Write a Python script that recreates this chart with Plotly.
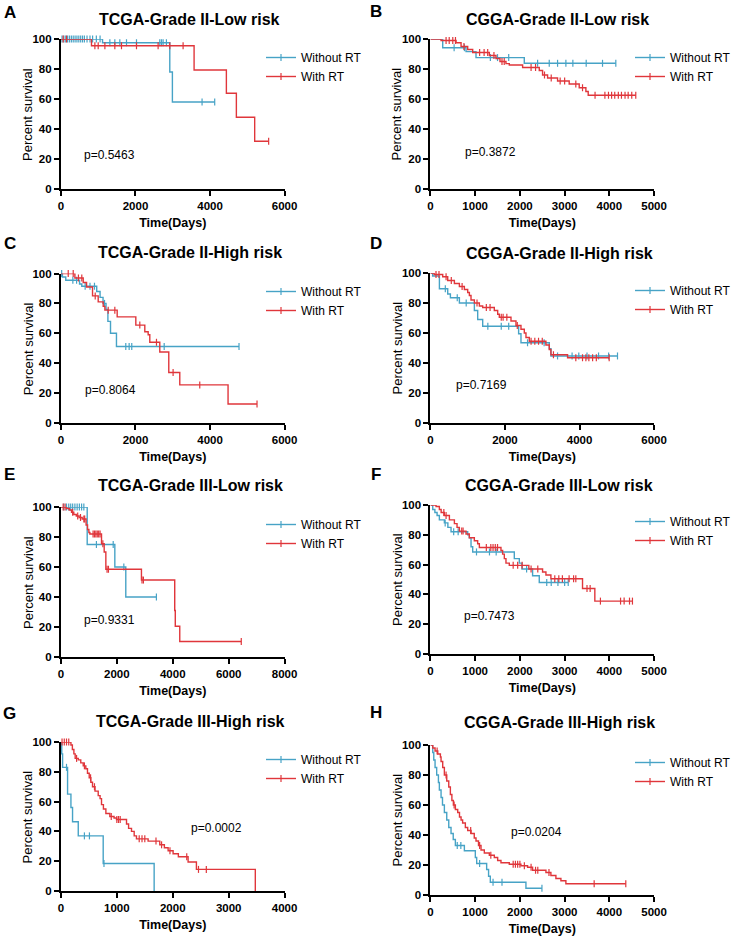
import plotly.graph_objects as go

W, H = 736, 937
BLUE = "#47A3C6"
RED = "#E0363B"
FONT = "Liberation Sans"

# ---------------- data (time in days, survival in %) ----------------
# Panel A: TCGA-Grade II-Low risk
A_wo_t = [1116, 2920, 2990]
A_wo_s = [97.5, 78, 58]
A_wo_c = [30, 80, 130, 180, 230, 280, 330, 380, 430, 480, 530, 580, 630, 700, 780, 850,
          950, 1050, 1313, 1446, 1580, 1759, 2027, 2652, 2697, 2741, 2830, 3786, 4125]
A_w_t = [820, 3572, 4438, 4706, 5197]
A_w_s = [95.5, 79.3, 63.8, 47.8, 31.8]
A_w_c = [60, 150, 911, 1000, 1179, 1446, 1625, 2027, 2607, 2920, 3277, 5572]

# Panel B: CGGA-Grade II-Low risk
B_wo_t = [275, 796, 1019, 2098]
B_wo_s = [94.2, 91.6, 87.6, 83.8]
B_wo_c = [530, 760, 1340, 1500, 1750, 2396, 2656, 2842, 3028, 3184, 3482, 3847, 4144]
B_w_t = [238, 573, 685, 833, 945, 1317, 1466, 1555, 1689, 1763, 2061, 2433, 2507, 2619,
         2842, 3102, 3326, 3475, 3527]
B_w_s = [99, 97.5, 95, 93, 91, 89, 87, 85, 83.6, 82.7, 81, 79, 76, 74, 72, 70, 67.5, 65, 62.5]
B_w_c = [350, 420, 500, 560, 750, 1100, 1200, 1280, 1420, 1600, 1650, 2250, 2350, 2550, 2700,
         2900, 3000, 3250, 3400, 3680, 3900, 3980, 4050, 4120, 4200, 4270, 4350, 4420, 4500, 4590]

# Panel C: TCGA-Grade II-High risk
C_wo_t = [40, 130, 500, 560, 960, 1050, 1130, 1210, 1260, 1330, 1490]
C_wo_s = [97.7, 95.5, 93, 91.5, 88, 84, 80, 76, 68, 60, 51.2]
C_wo_c = [20, 320, 420, 650, 780, 900, 1170, 1740, 1830, 1900, 2770, 4777]
C_w_t = [375, 598, 688, 848, 1000, 1134, 1179, 1509, 2009, 2250, 2340, 2384, 2652, 2893, 3188, 4483]
C_w_s = [97, 94, 91, 85, 81, 78, 75.5, 71, 65.5, 61, 59, 54, 47.5, 33.8, 25.5, 12.7]
C_w_c = [196, 330, 470, 560, 920, 1268, 1446, 2116, 2563, 3009, 3724, 5260]

# Panel D: CGGA-Grade II-High risk
D_wo_t = [60, 241, 464, 536, 777, 1179, 1268, 1402, 2366, 2429, 3188, 3232]
D_wo_s = [98, 89.5, 86, 83.5, 80, 75, 69, 64.5, 59.5, 53.5, 49.5, 44.7]
D_wo_c = [400, 720, 960, 1540, 1900, 2100, 2605, 3050, 3410, 3800, 3980, 4200, 4510, 4780, 5018]
D_w_t = [100, 330, 464, 643, 777, 911, 1000, 1045, 1089, 1179, 1313, 1402, 1714, 1804, 1848,
         2161, 2295, 2429, 2518, 2563, 2652, 3098, 3188, 3232, 3679]
D_w_s = [99, 97.5, 95, 93, 91, 89, 87, 85, 82, 80, 78, 77, 75, 72.5, 70.5, 68, 65, 62.5, 60, 57,
         54.5, 52, 49, 45.5, 43.5]
D_w_c = [150, 230, 420, 560, 850, 1250, 1500, 1600, 1900, 1950, 2050, 2330, 2700, 2800, 2900,
         3000, 3300, 3900, 4080, 4170, 4250, 4350, 4450, 4795]

# Panel E: TCGA-Grade III-Low risk
E_wo_t = [940, 1928, 2320]
E_wo_s = [75, 60, 40]
E_wo_c = [100, 200, 280, 350, 420, 500, 580, 660, 740, 820, 1270, 1870, 2250, 3415]
E_w_t = [200, 300, 380, 460, 550, 650, 760, 900, 952, 1000, 1035, 1452, 1547, 1607, 2880,
         4070, 4090, 4250]
E_w_s = [99, 98, 96.5, 95, 94, 93, 92, 88, 85, 83, 82, 75.5, 70, 58.5, 51.3, 31, 20.5, 10.3]
E_w_c = [80, 150, 420, 600, 700, 820, 850, 1150, 1200, 1250, 1300, 1350, 1400, 1500, 1650,
         1700, 2900, 2950, 6450]

# Panel F: CGGA-Grade III-Low risk
F_wo_t = [52, 100, 149, 200, 312, 390, 461, 833, 870, 908, 945, 1875, 1987, 2046, 2284, 2433]
F_wo_s = [97, 95, 93, 90, 88, 85, 82, 80, 78, 72, 68.5, 64, 61, 57, 52.5, 48]
F_wo_c = [330, 520, 620, 1030, 1320, 1470, 2150, 2600, 2700, 2850, 3000, 3080]
F_w_t = [126, 200, 240, 310, 424, 536, 595, 647, 796, 870, 982, 1056, 1094, 1577, 1614, 1652,
         1689, 1763, 2200, 2507, 2582, 2693, 3400, 3675]
F_w_s = [99, 97, 95, 93, 90, 87.5, 85, 82.5, 80.5, 78, 76, 74, 71.5, 69.5, 67, 64, 61, 59.5,
         57, 55, 53, 50.5, 44, 35.5]
F_w_c = [300, 350, 700, 730, 1250, 1350, 1400, 1450, 1500, 1850, 1950, 2050, 2250, 2400, 2780,
         2870, 2950, 3100, 3200, 3250, 3500, 3570, 3800, 4250, 4330, 4450, 4516]

# Panel G: TCGA-Grade III-High risk
G_wo_t = [15, 30, 119, 179, 208, 310, 756, 1667]
G_wo_s = [92, 83, 65, 56, 46.5, 37, 18.5, 0]
G_wo_c = [100, 420, 510, 770]
G_w_t = [179, 205, 232, 255, 310, 355, 399, 445, 475, 506, 535, 565, 610, 667, 700, 726, 760,
         804, 875, 950, 994, 1173, 1210, 1262, 1310, 1351, 1559, 1768, 1850, 1917, 2006, 2100,
         2274, 2423, 3476]
G_w_s = [98, 95, 92, 89, 88, 86, 84, 82, 79, 76, 73, 70, 67, 64, 62, 58, 55, 52, 50, 49, 48,
         45, 42, 40, 37, 35, 33.5, 31, 29, 27, 25, 23, 19.5, 14.5, 0]
G_w_c = [20, 60, 100, 140, 280, 420, 530, 600, 900, 1000, 1030, 1060, 1400, 1450, 1500, 1700,
         1800, 1950, 2250, 2460, 2600]

# Panel H: CGGA-Grade III-High risk
H_wo_t = [52, 75, 104, 140, 179, 200, 238, 270, 312, 365, 410, 461, 510, 558, 759, 1004, 1034,
          1257, 1300, 1339, 2135]
H_wo_s = [95, 90, 85, 80, 75, 70, 65, 60, 55, 50, 45, 41, 37, 33, 29.5, 25, 21, 17, 12.5, 8.5, 4.5]
H_wo_c = [600, 680, 1100, 1400, 1600, 2493]
H_w_t = [52, 104, 164, 223, 238, 275, 312, 365, 410, 446, 480, 513, 558, 610, 650, 685, 720,
         781, 833, 908, 980, 1019, 1075, 1131, 1205, 1317, 1428, 1503, 1577, 1763, 2023, 2172,
         2284, 2582, 2693, 2805, 2917, 3028]
H_w_s = [98, 96, 94, 92, 89, 85, 80, 76, 72, 67, 63, 60, 57, 55, 52, 50, 48, 45, 43, 41, 38,
         36, 33, 30, 28, 26.5, 25, 23, 21.5, 20.5, 19.5, 18.5, 16.5, 15, 13, 11, 9.5, 7.5]
H_w_c = [150, 350, 530, 900, 1100, 1350, 1850, 1900, 1950, 2000, 2100, 2250, 2350, 2400, 2650,
         3660, 4367]

titles = ["TCGA-Grade II-Low risk", "CGGA-Grade II-Low risk",
          "TCGA-Grade II-High risk", "CGGA-Grade II-High risk",
          "TCGA-Grade III-Low risk", "CGGA-Grade III-Low risk",
          "TCGA-Grade III-High risk", "CGGA-Grade III-High risk"]
letters = ["A", "B", "C", "D", "E", "F", "G", "H"]
pvalues = ["p=0.5463", "p=0.3872", "p=0.8064", "p=0.7169",
           "p=0.9331", "p=0.7473", "p=0.0002", "p=0.0204"]
xmax = [6000, 5000, 6000, 6000, 8000, 5000, 4000, 5000]
xdtick = [2000, 1000, 2000, 2000, 2000, 1000, 1000, 1000]
series_names = ["Without RT", "With RT"]

data = [
    ((A_wo_t, A_wo_s, A_wo_c), (A_w_t, A_w_s, A_w_c)),
    ((B_wo_t, B_wo_s, B_wo_c), (B_w_t, B_w_s, B_w_c)),
    ((C_wo_t, C_wo_s, C_wo_c), (C_w_t, C_w_s, C_w_c)),
    ((D_wo_t, D_wo_s, D_wo_c), (D_w_t, D_w_s, D_w_c)),
    ((E_wo_t, E_wo_s, E_wo_c), (E_w_t, E_w_s, E_w_c)),
    ((F_wo_t, F_wo_s, F_wo_c), (F_w_t, F_w_s, F_w_c)),
    ((G_wo_t, G_wo_s, G_wo_c), (G_w_t, G_w_s, G_w_c)),
    ((H_wo_t, H_wo_s, H_wo_c), (H_w_t, H_w_s, H_w_c)),
]

# ---------------- layout geometry (pixels) ----------------
col_x = [(61, 285), (431, 655)]
row_y = [(39, 189), (39, 189), (273.5, 423), (273, 423),
         (507, 657), (505, 654), (742, 891), (745, 895)]
title_pos = [(190, 19), (558, 19), (190, 252), (560, 253),
             (191, 486), (560, 486), (191, 721), (560, 722)]
letter_pos = [(10, 12.5), (377, 12), (10, 243), (377, 243),
              (10, 475), (377, 475), (10, 713), (377, 712.5)]
legend_y = [54, 54, 288, 287, 521, 518, 756, 759]
pval_pos = [(554, 22.7), (722, 24.9), (580, 22.3), (643, 25.2),
            (738, 24.6), (707, 25.2), (2292, 42.4), (1763, 42.2)]


def px_x(x):
    return x / W


def px_y(y):
    return 1 - y / H


def surv_at(times, surv, t):
    s = 100
    for ti, si in zip(times, surv):
        if ti <= t:
            s = si
    return s


fig = go.Figure()
layout = dict(
    width=W, height=H, margin=dict(l=0, r=0, t=0, b=0),
    paper_bgcolor="white", plot_bgcolor="white",
    font=dict(family=FONT, color="black", size=12),
    showlegend=True, annotations=[],
)

for i in range(8):
    n = i + 1
    xa = "x" if n == 1 else f"x{n}"
    ya = "y" if n == 1 else f"y{n}"
    lg = "legend" if n == 1 else f"legend{n}"
    cx0, cx1 = col_x[i % 2]
    ry0, ry1 = row_y[i]

    for (times, surv, cens), color, name in zip(data[i], [BLUE, RED], series_names):
        tend = max(times[-1], cens[-1] if cens else 0)
        lx = [0] + list(times) + [tend]
        ly = [100] + list(surv) + [surv_at(times, surv, tend)]
        fig.add_trace(go.Scatter(
            x=lx, y=ly, mode="lines", line=dict(color=color, width=1.4, shape="hv"),
            xaxis=xa, yaxis=ya, showlegend=False, cliponaxis=False, hoverinfo="skip"))
        fig.add_trace(go.Scatter(
            x=list(cens), y=[surv_at(times, surv, c) for c in cens], mode="markers",
            marker=dict(symbol="line-ns", size=5, line=dict(color=color, width=1.2)),
            xaxis=xa, yaxis=ya, showlegend=False, cliponaxis=False, hoverinfo="skip"))
        fig.add_trace(go.Scatter(
            x=[None], y=[None], mode="lines+markers", name=name,
            line=dict(color=color, width=1.4),
            marker=dict(symbol="line-ns", size=5, line=dict(color=color, width=1.2)),
            xaxis=xa, yaxis=ya, legend=lg, showlegend=True))

    layout["xaxis" if n == 1 else f"xaxis{n}"] = dict(
        domain=[px_x(cx0), px_x(cx1)], anchor=ya, range=[0, xmax[i]], dtick=xdtick[i],
        showline=True, linecolor="black", linewidth=2, ticks="outside", ticklen=5,
        tickwidth=2, tickcolor="black", showgrid=False, zeroline=False,
        tickfont=dict(family=FONT, size=11.5, color="black", weight="bold"),
        title=dict(text="Time(Days)", standoff=7,
                   font=dict(family=FONT, size=12.5, color="black", weight="bold")),
        automargin=False, fixedrange=True)
    layout["yaxis" if n == 1 else f"yaxis{n}"] = dict(
        domain=[px_y(ry1), px_y(ry0)], anchor=xa, range=[0, 100], dtick=20,
        showline=True, linecolor="black", linewidth=2, ticks="outside", ticklen=5,
        tickwidth=2, tickcolor="black", showgrid=False, zeroline=False,
        tickfont=dict(family=FONT, size=11.5, color="black", weight="bold"),
        automargin=False, fixedrange=True)
    layout[lg] = dict(
        x=px_x(cx1 - 24), y=px_y(legend_y[i] - 11), xanchor="left", yanchor="top",
        bgcolor="rgba(0,0,0,0)", borderwidth=0, itemwidth=30, tracegroupgap=0,
        font=dict(family=FONT, size=12, color="black"))

    # y-axis title
    layout["annotations"].append(dict(
        text="Percent survival", xref="paper", yref="paper", x=px_x(cx0 - 33),
        y=px_y((ry0 + ry1) / 2), xanchor="center", yanchor="middle", textangle=-90,
        showarrow=False, font=dict(family=FONT, size=13, color="black")))
    layout["annotations"].append(dict(
        text=titles[i], xref="paper", yref="paper", x=px_x(title_pos[i][0]),
        y=px_y(title_pos[i][1]), xanchor="center", yanchor="middle", showarrow=False,
        font=dict(family=FONT, size=16, color="black", weight="bold")))
    layout["annotations"].append(dict(
        text=letters[i], xref="paper", yref="paper", x=px_x(letter_pos[i][0]),
        y=px_y(letter_pos[i][1]), xanchor="center", yanchor="middle", showarrow=False,
        font=dict(family=FONT, size=17, color="black", weight="bold")))
    layout["annotations"].append(dict(
        text=pvalues[i], xref=xa, yref=ya, x=pval_pos[i][0], y=pval_pos[i][1],
        xanchor="left", yanchor="middle", showarrow=False,
        font=dict(family=FONT, size=12, color="black")))

fig.update_layout(**layout)
fig.write_html("out.html", post_script="document.body.style.margin='0';",
               config={"displayModeBar": False})
